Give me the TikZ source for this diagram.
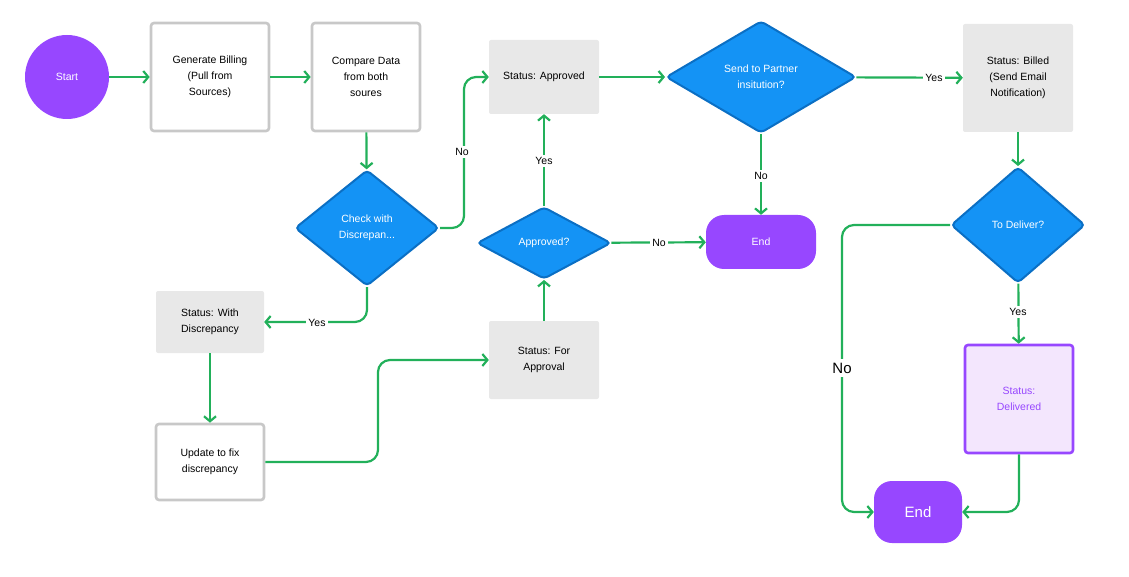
\documentclass[tikz,border=0pt]{standalone}
\usepackage{fontspec}
\setmainfont{Liberation Sans}
\usetikzlibrary{shapes.geometric,arrows.meta}
\definecolor{flowgreen}{HTML}{22B05A}
\definecolor{startpurple}{HTML}{9747FF}
\definecolor{decblue}{HTML}{1493F5}
\definecolor{decborder}{HTML}{0B6FC4}
\definecolor{boxgray}{HTML}{E8E8E8}
\definecolor{linegray}{HTML}{C8C8C8}
\definecolor{lightpurple}{HTML}{F3E6FD}
\tikzset{
  flow/.style={draw=flowgreen,line width=2.2pt,rounded corners=12pt,-{Straight Barb[length=5pt,width=12pt]}},
  procbox/.style={draw=linegray,line width=2.6pt,fill=white,rounded corners=3pt,align=center,font=\fontsize{10.5}{16}\selectfont},
  statbox/.style={fill=boxgray,rounded corners=2pt,align=center,font=\fontsize{10.5}{16}\selectfont},
  decide/.style={diamond,draw=decborder,line width=2pt,fill=decblue,text=white,rounded corners=4pt,inner sep=0pt,align=center,font=\fontsize{10.5}{16}\selectfont},
  endbox/.style={fill=startpurple,text=white,rounded corners=18pt,font=\fontsize{10.5}{16}\selectfont},
  lbl/.style={fill=white,inner sep=2pt,font=\fontsize{10.5}{13}\selectfont}
}
\begin{document}
\begin{tikzpicture}[x=1pt,y=1pt,yscale=-1]
	\useasboundingbox (0,0) rectangle (1129,577);
	% nodes
	\node[circle,fill=startpurple,text=white,minimum size=84pt,font=\fontsize{10.5}{16}\selectfont] (start) at (67,77) {Start};
	\node[procbox,minimum width=118pt,minimum height=108pt] (gen) at (210,77) {Generate Billing\\(Pull from\\Sources)};
	\node[procbox,minimum width=108pt,minimum height=108pt] (cmp) at (366,77) {Compare Data\\from both\\soures};
	\node[decide,minimum width=144pt,minimum height=116pt] (chk) at (367,228) {Check with\\Discrepan...};
	\node[statbox,minimum width=110pt,minimum height=74pt] (appr) at (544,77) {Status: Approved};
	\node[decide,minimum width=190pt,minimum height=112pt] (send) at (761,77) {Send to Partner\\insitution?};
	\node[statbox,minimum width=110pt,minimum height=108pt] (bill) at (1018,78) {Status: Billed\\(Send Email\\Notification)};
	\node[decide,minimum width=134pt,minimum height=116pt] (dlv) at (1018,225) {To Deliver?};
	\node[decide,minimum width=134pt,minimum height=72pt] (aq) at (544,243) {Approved?};
	\node[endbox,minimum width=110pt,minimum height=54pt] (end1) at (761,242) {End};
	\node[statbox,minimum width=108pt,minimum height=62pt] (disc) at (210,322) {Status: With\\Discrepancy};
	\node[procbox,minimum width=108pt,minimum height=76pt] (upd) at (210,462) {Update to fix\\discrepancy};
	\node[statbox,minimum width=110pt,minimum height=78pt] (fa) at (544,360) {Status: For\\Approval};
	\node[procbox,draw=startpurple,fill=lightpurple,text=startpurple,minimum width=108pt,minimum height=108pt] (done) at (1019,399) {Status:\\Delivered};
	\node[endbox,minimum width=88pt,minimum height=62pt,font=\fontsize{15}{18}\selectfont] (end2) at (918,512) {End};
	% connectors
	\draw[flow] (start) -- (gen);
	\draw[flow] (gen) -- (cmp);
	\draw[flow] (cmp) -- (chk);
	\draw[flow] (chk.east) -- ++(24,0) |- (appr.west);
	\node[lbl] (lno1) at (462,152) {No};
	\draw[flow] (chk.south) |- (disc.east);
	\node[lbl] (lyes1) at (317,323) {Yes};
	\draw[flow] (disc) -- (upd);
	\draw[flow] (upd.east) -- (378,462) |- (fa.west);
	\draw[flow] (fa) -- (aq);
	\draw[flow] (aq) -- (appr);
	\node[lbl] (lyes2) at (544,161) {Yes};
	\draw[flow] (aq) -- (end1);
	\node[lbl] (lno2) at (659,243) {No};
	\draw[flow] (appr) -- (send);
	\draw[flow] (send) -- (end1);
	\node[lbl] (lno3) at (761,176) {No};
	\draw[flow] (send) -- (bill);
	\node[lbl] (lyes3) at (934,78) {Yes};
	\draw[flow] (bill) -- (dlv);
	\draw[flow] (dlv) -- (done);
	\node[lbl] (lyes4) at (1018,312) {Yes};
	\draw[flow] (dlv.west) -| (842,512) -- (end2.west);
	\node[lbl,font=\fontsize{15}{18}\selectfont,inner sep=4pt] (lno4) at (842,368) {No};
	\draw[flow] (done.south) |- (end2.east);
\end{tikzpicture}
\end{document}
